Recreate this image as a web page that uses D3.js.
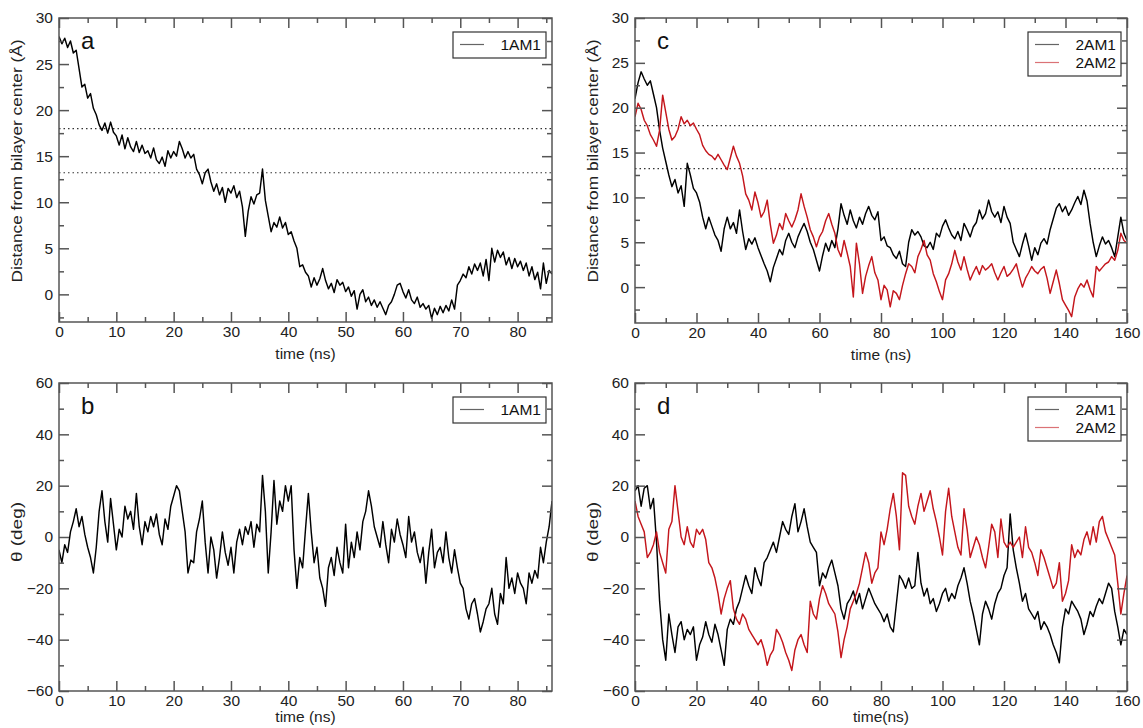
<!DOCTYPE html>
<html lang="en">
<head>
<meta charset="utf-8" />
<title>Distance and tilt time series</title>
<script src="https://cdn.jsdelivr.net/npm/d3@7"></script>
<style>
body { margin: 0; background: #fff; }
svg { display: block; font-family: 'Liberation Sans', Arial, sans-serif; }
.tick text { fill: #222; font-size: 15.5px; }
.tick line { stroke: #555; stroke-width: 1.5; }
.frame { fill: none; stroke: #555; stroke-width: 1.5; }
.ref { stroke: #333; stroke-width: 1.2; stroke-dasharray: 1.5,3; }
.series { fill: none; stroke-width: 1.45; stroke-linejoin: round; }
.title { font-size: 15.5px; fill: #222; }
.letter { font-size: 24px; fill: #111; }
.legend rect { fill: #fff; stroke: #333; stroke-width: 1.2; }
.legend text { font-size: 15.5px; fill: #111; }
</style>
</head>
<body>
<script>
// sampling interval (ns)
var stepA = 0.5;
var stepC = 1;

// panel a: distance from bilayer center, 1AM1
var distA = [28.0,27.2,27.8,26.8,27.5,26.2,26.5,24.5,22.5,22.8,
  21.3,21.8,20.2,19.5,18.4,17.8,18.6,17.5,18.7,17.6,
  17.2,16.2,17.3,15.8,17.0,16.0,15.5,16.6,15.4,16.2,
  15.3,15.6,14.8,15.9,14.6,14.2,14.9,13.9,15.6,14.8,
  15.5,15.0,16.6,15.8,14.8,15.5,14.8,15.2,13.6,13.0,
  12.0,13.2,13.6,12.2,11.2,12.0,10.8,11.6,10.0,11.5,
  11.0,11.8,10.5,11.2,9.5,6.3,9.0,10.6,9.8,10.8,
  11.0,13.6,10.2,8.5,6.8,7.8,7.3,8.4,7.2,7.8,
  6.5,6.8,5.8,5.0,3.0,3.2,2.4,2.0,0.8,1.8,
  1.0,1.7,2.8,1.5,0.6,1.2,0.2,1.6,1.0,1.3,
  0.3,0.8,-0.2,0.4,-1.6,0.0,0.5,-0.8,-0.3,-1.2,
  -0.6,-1.4,-0.8,-1.5,-2.2,-1.2,-0.8,0.0,1.0,1.2,
  0.3,-0.4,0.5,-0.6,-1.0,-0.3,-1.4,-1.0,-1.6,-1.2,
  -2.6,-1.5,-2.2,-1.3,-2.0,-1.2,-1.8,-0.6,-1.6,1.0,
  1.5,2.2,1.8,3.0,2.2,3.3,2.6,3.4,2.0,3.8,
  1.5,5.0,3.5,4.8,4.0,4.6,3.2,4.0,2.8,3.9,
  3.0,3.6,2.6,3.4,2.0,3.0,1.6,2.4,0.6,3.4,
  1.2,2.6,2.2];

// panel b: theta, 1AM1
var thetaA = [-5,-10,-3,-6,2,6,11,4,8,1,
  -4,-8,-14,-4,10,18,6,-2,15,5,
  -5,3,0,12,7,10,3,17,4,-3,
  6,2,8,4,9,1,-3,7,3,12,
  16,20,18,10,2,-14,-9,-10,2,7,
  14,-2,-14,0,-5,-16,-8,2,-6,-11,
  -4,-14,-2,3,-3,4,1,6,-4,5,
  2,24,10,-14,2,22,5,14,10,20,
  14,20,-5,-20,-8,-12,3,17,2,-10,
  -4,-16,-20,-27,-12,-8,-15,-4,-10,-14,
  5,-12,-2,-8,2,-5,6,10,18,12,
  4,0,-4,6,-3,-10,3,-2,7,1,
  -3,-8,8,-2,2,-6,-10,-4,-18,-6,
  3,-12,-6,-4,-10,2,-8,-14,-5,-12,
  -18,-20,-28,-32,-26,-24,-30,-37,-33,-28,
  -26,-20,-30,-34,-22,-26,-8,-20,-16,-22,
  -14,-18,-20,-26,-14,-18,-13,-16,-4,-10,
  -2,4,14];

// panel c: distance, 2AM1 and 2AM2
var dist2AM1 = [21.0,22.8,24.0,23.2,22.5,23.0,21.5,20.0,17.5,15.5,
  14.0,12.5,11.2,12.0,10.5,11.3,9.0,13.8,12.5,11.0,
  10.5,9.5,7.8,6.5,7.8,6.8,5.8,5.2,4.0,6.5,
  7.8,6.5,7.2,6.0,8.6,6.2,4.2,5.4,4.8,5.5,
  4.4,3.5,2.6,1.8,0.6,2.2,3.2,4.2,3.6,5.2,
  6.0,5.0,4.4,5.6,6.4,7.1,6.2,5.0,4.2,3.0,
  1.8,3.5,4.9,4.0,5.2,4.4,6.5,9.3,8.0,7.0,
  8.6,7.4,6.6,7.8,7.0,8.2,9.0,8.0,7.5,8.4,
  5.2,5.6,4.6,4.4,3.6,3.2,4.0,2.6,2.3,5.0,
  6.4,5.8,6.2,5.6,4.6,4.4,5.0,4.2,6.0,5.6,
  6.8,7.5,6.6,5.8,5.4,6.2,5.2,7.1,6.4,5.6,
  6.7,7.2,8.6,7.6,8.2,9.7,8.4,7.8,8.4,7.2,
  9.0,7.8,7.1,5.0,4.2,3.4,4.8,6.0,4.6,3.0,
  4.4,3.6,4.9,5.4,4.8,6.4,7.6,8.8,9.3,8.4,
  9.0,8.0,8.6,9.4,10.1,9.2,10.8,9.6,7.1,5.0,
  3.4,4.6,5.6,4.8,5.2,4.4,3.4,5.6,7.8,6.0,
  5.2];
var dist2AM2 = [19.0,20.5,19.8,18.6,18.0,17.0,16.4,15.7,17.5,21.4,
  19.5,17.6,16.4,16.8,17.6,19.0,18.2,18.6,18.0,18.3,
  17.6,17.0,15.8,15.2,14.8,14.6,14.2,14.8,14.2,13.6,
  13.1,14.4,15.7,14.6,13.8,12.4,10.4,9.7,8.6,10.6,
  9.4,7.8,8.4,9.7,7.0,4.9,5.8,7.1,6.4,8.2,
  7.4,6.7,7.5,8.6,10.4,9.0,7.8,6.4,5.6,4.5,
  5.6,6.2,7.4,8.2,7.0,6.0,4.2,3.4,5.2,3.8,
  2.3,-1.1,4.9,2.6,-0.7,1.2,2.4,3.4,1.6,0.8,
  -1.4,0.2,-0.3,-2.2,-0.4,-0.7,-1.4,0.2,1.5,2.6,
  2.3,1.6,3.4,4.2,5.2,3.6,3.0,1.5,0.6,-0.5,
  -1.4,0.8,1.5,2.6,4.1,2.8,1.9,3.4,2.0,0.8,
  1.6,2.3,1.4,2.4,1.9,2.2,2.6,1.6,0.8,1.6,
  2.3,1.2,1.5,2.0,2.6,1.2,0.0,1.0,1.6,2.3,
  1.8,1.5,2.0,2.3,1.0,-0.7,0.6,1.9,0.4,-1.4,
  -2.0,-2.6,-3.3,-1.1,-0.2,0.4,0.0,0.8,-0.3,-1.1,
  2.3,1.8,2.2,2.6,2.8,3.4,3.0,4.1,6.0,5.2,
  4.9];

// panel d: theta, 2AM1 and 2AM2
var theta2AM1 = [18,20,12,19,20,11,15,-2,-25,-40,
  -48,-30,-38,-45,-35,-33,-40,-36,-38,-35,
  -48,-42,-39,-33,-38,-41,-34,-38,-44,-50,
  -36,-32,-34,-28,-25,-20,-15,-19,-22,-12,
  -16,-19,-10,-8,-5,-2,-6,0,6,3,
  1,8,13,2,6,11,4,-2,-4,-6,
  -19,-14,-16,-12,-9,-14,-19,-28,-32,-26,
  -24,-21,-26,-22,-28,-24,-20,-23,-26,-28,
  -30,-33,-30,-35,-37,-26,-15,-17,-20,-16,
  -20,-19,-6,-18,-23,-20,-26,-24,-29,-26,
  -22,-20,-25,-22,-24,-19,-16,-12,-18,-25,
  -30,-36,-42,-30,-25,-28,-32,-26,-22,-20,
  -15,-12,9,-5,-12,-18,-25,-22,-28,-30,
  -32,-29,-36,-33,-35,-38,-42,-45,-49,-35,
  -28,-30,-25,-27,-29,-32,-38,-34,-29,-31,
  -27,-24,-26,-22,-18,-20,-29,-35,-42,-36,
  -38];
var theta2AM2 = [14,8,5,2,-8,-6,-3,2,-6,-10,
  -14,3,6,20,10,0,-3,4,-2,-4,
  3,1,3,-1,-10,-12,-16,-22,-30,-24,
  -20,-17,-28,-32,-34,-30,-32,-36,-38,-40,
  -42,-40,-44,-50,-46,-44,-36,-38,-41,-45,
  -48,-52,-44,-40,-38,-42,-45,-25,-30,-32,
  -24,-19,-22,-26,-28,-30,-37,-47,-40,-35,
  -28,-25,-22,-18,-12,-6,-10,-18,-14,-12,
  2,-3,3,11,17,8,-5,25,24,12,
  8,5,12,17,10,14,18,11,6,0,
  -7,10,19,8,2,-4,-7,11,3,-8,
  -4,0,-3,-8,-12,-4,5,2,-8,7,
  -2,-4,-2,-4,-2,0,-8,4,-4,-6,
  -10,-15,-5,-8,-12,-16,-20,-18,-10,-25,
  -22,-17,-3,-8,-5,-7,-1,2,-3,4,
  -2,6,8,2,-1,-4,-7,-18,-30,-22,
  -15];

// dotted reference levels in the distance panels
var refLevels = [18, 13.2];

// ticks
var xTicksA = [0,10,20,30,40,50,60,70,80];
var xMinorA = [5,15,25,35,45,55,65,75,85];
var xTicksC = [0,20,40,60,80,100,120,140,160];
var xMinorC = [10,30,50,70,90,110,130,150];
var yTicksDist = [0,5,10,15,20,25,30];
var yMinorDist = [-2.5,2.5,7.5,12.5,17.5,22.5,27.5];
var yTicksTheta = [-60,-40,-20,0,20,40,60];
var yMinorTheta = [-50,-30,-10,10,30,50];

var distTitle = 'Distance from bilayer center (\u00C5)';
var thetaTitle = '\u03B8 (deg)';

var W = 1143, H = 728;
var svg = d3.select('body').append('svg').attr('width', W).attr('height', H);

var panels = [
  { id: 'a', x0: 59, x1: 552, y0: 18, y1: 322, xd: [0, 86], yd: [-3, 30],
    xt: xTicksA, xm: xMinorA, yt: yTicksDist, ym: yMinorDist,
    step: stepA, series: [{ name: '1AM1', v: distA, c: '#000' }],
    refs: refLevels, xTitle: 'time (ns)', yTitle: distTitle, yLen: 243, yMid: 161 },
  { id: 'b', x0: 59, x1: 552, y0: 383, y1: 691, xd: [0, 86], yd: [-60, 60],
    xt: xTicksA, xm: xMinorA, yt: yTicksTheta, ym: yMinorTheta,
    step: stepA, series: [{ name: '1AM1', v: thetaA, c: '#000' }],
    refs: [], xTitle: 'time (ns)', yTitle: thetaTitle, yLen: 60, yMid: 532 },
  { id: 'c', x0: 635, x1: 1127, y0: 18, y1: 323, xd: [0, 160], yd: [-4, 30],
    xt: xTicksC, xm: xMinorC, yt: yTicksDist, ym: yMinorDist,
    step: stepC, series: [{ name: '2AM1', v: dist2AM1, c: '#000' }, { name: '2AM2', v: dist2AM2, c: '#c4161c' }],
    refs: refLevels, xTitle: 'time (ns)', yTitle: distTitle, yLen: 243, yMid: 161 },
  { id: 'd', x0: 635, x1: 1127, y0: 383, y1: 691, xd: [0, 160], yd: [-60, 60],
    xt: xTicksC, xm: xMinorC, yt: yTicksTheta, ym: yMinorTheta,
    step: stepC, series: [{ name: '2AM1', v: theta2AM1, c: '#000' }, { name: '2AM2', v: theta2AM2, c: '#c4161c' }],
    refs: [], xTitle: 'time(ns)', yTitle: thetaTitle, yLen: 60, yMid: 532 }
];

panels.forEach(function (p) {
  var x = d3.scaleLinear().domain(p.xd).range([p.x0, p.x1]);
  var y = d3.scaleLinear().domain(p.yd).range([p.y1, p.y0]);
  var g = svg.append('g');

  g.append('clipPath').attr('id', 'clip-' + p.id)
    .append('rect').attr('x', p.x0).attr('y', p.y0)
    .attr('width', p.x1 - p.x0).attr('height', p.y1 - p.y0);

  var plot = g.append('g').attr('clip-path', 'url(#clip-' + p.id + ')');

  plot.selectAll('.ref').data(p.refs).enter().append('line')
    .attr('class', 'ref')
    .attr('x1', p.x0).attr('x2', p.x1)
    .attr('y1', function (d) { return y(d); })
    .attr('y2', function (d) { return y(d); });

  var line = d3.line()
    .x(function (d, i) { return x(i * p.step); })
    .y(function (d) { return y(d); });

  p.series.forEach(function (s) {
    plot.append('path').attr('class', 'series')
      .attr('stroke', s.c).attr('d', line(s.v));
  });

  // axes with inward ticks on all four sides
  function axis(gen, tx, ty, vals, size, pad) {
    var a = g.append('g').attr('transform', 'translate(' + tx + ',' + ty + ')')
      .call(gen.tickValues(vals).tickSize(-size)
        .tickPadding(pad || 3)
        .tickFormat(pad ? d3.format('') : ''));
    a.select('.domain').remove();
    a.attr('font-family', null).attr('font-size', null);
    return a;
  }
  axis(d3.axisBottom(x), 0, p.y1, p.xt, 10, 4);
  axis(d3.axisBottom(x), 0, p.y1, p.xm, 5, 0);
  axis(d3.axisTop(x), 0, p.y0, p.xt, 10, 0);
  axis(d3.axisTop(x), 0, p.y0, p.xm, 5, 0);
  axis(d3.axisLeft(y), p.x0, 0, p.yt, 10, 6);
  axis(d3.axisLeft(y), p.x0, 0, p.ym, 5, 0);
  axis(d3.axisRight(y), p.x1, 0, p.yt, 10, 0);
  axis(d3.axisRight(y), p.x1, 0, p.ym, 5, 0);

  g.append('rect').attr('class', 'frame')
    .attr('x', p.x0).attr('y', p.y0)
    .attr('width', p.x1 - p.x0).attr('height', p.y1 - p.y0);

  // axis titles
  g.append('text').attr('class', 'title')
    .attr('x', (p.x0 + p.x1) / 2)
    .attr('y', p.y0 < 100 ? p.y1 + 37 : p.y1 + 31)
    .attr('text-anchor', 'middle').text(p.xTitle);
  g.append('text').attr('class', 'title')
    .attr('transform', 'translate(' + (p.x0 - 37) + ',' + p.yMid + ') rotate(-90)')
    .attr('text-anchor', 'middle')
    .attr('textLength', p.yLen).attr('lengthAdjust', 'spacingAndGlyphs')
    .text(p.yTitle);

  // panel letter
  g.append('text').attr('class', 'letter')
    .attr('x', p.x0 + 22).attr('y', p.y0 + 31).text(p.id);

  // legend
  var lw = 93, lh = 8 + p.series.length * 18;
  var lg = g.append('g').attr('class', 'legend')
    .attr('transform', 'translate(' + (p.x1 - 6 - lw) + ',' + (p.y0 + 14) + ')');
  lg.append('rect').attr('width', lw).attr('height', lh);
  p.series.forEach(function (s, i) {
    var cy = 12.5 + i * 18;
    lg.append('line').attr('x1', 7).attr('x2', 31)
      .attr('y1', cy).attr('y2', cy)
      .attr('stroke', s.c).attr('stroke-width', 1.2).attr('opacity', 0.6);
    lg.append('text').attr('x', lw - 5).attr('y', cy + 5.5)
      .attr('text-anchor', 'end').text(s.name);
  });
});
</script>
</body>
</html>
